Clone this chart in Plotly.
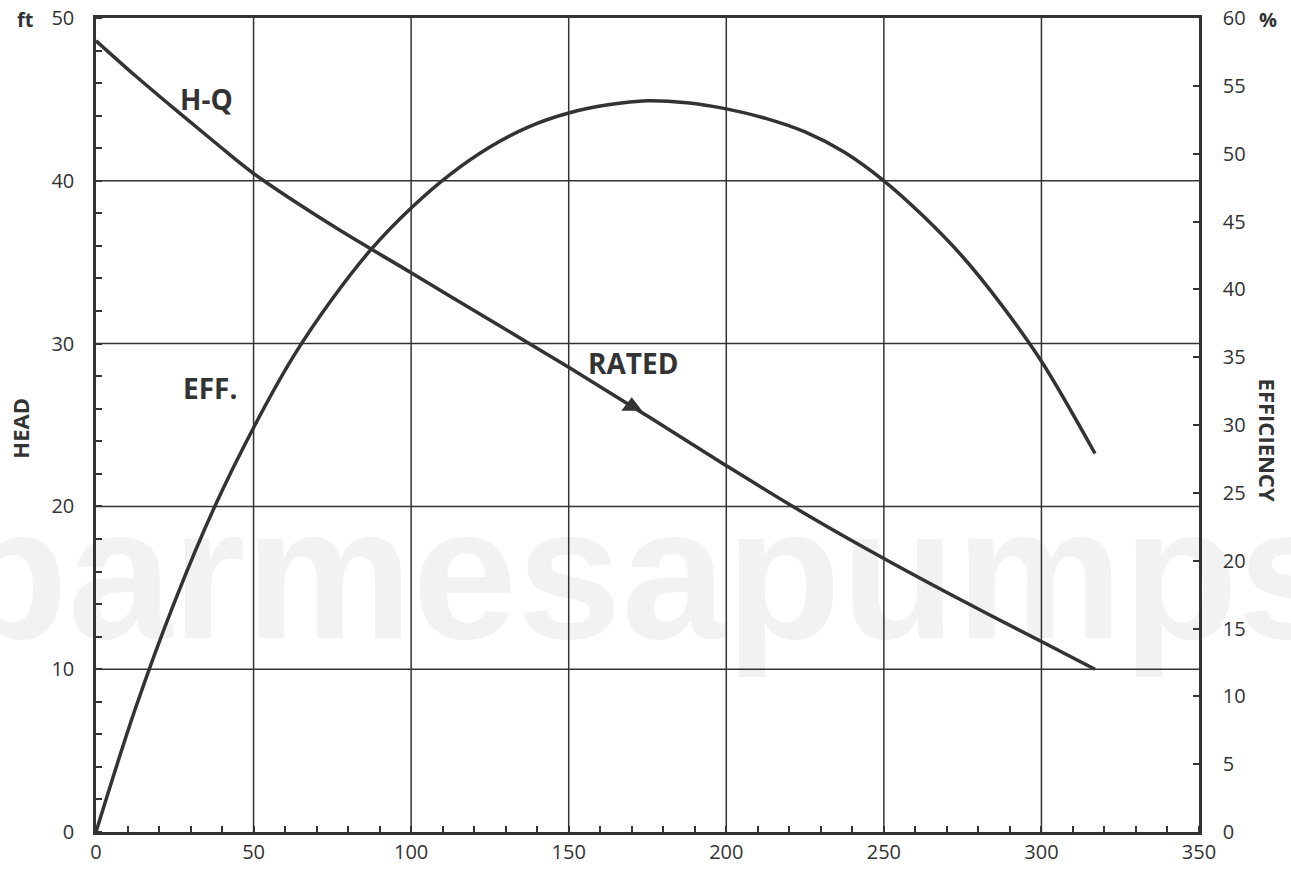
import plotly.graph_objects as go

# H-Q curve (flow, head in ft)
q_hq = [0, 12.5, 25, 37.5, 50, 75, 100, 125, 150, 175, 200, 225, 250, 275, 300, 317]
head = [48.6, 46.45, 44.4, 42.4, 40.45, 37.25, 34.35, 31.45, 28.55, 25.55, 22.5, 19.55, 16.8, 14.2, 11.7, 10.0]

# Efficiency curve (flow, %)
q_eff = [0, 12.5, 25, 37.5, 50, 62.5, 75, 87.5, 100, 112.5, 125, 137.5, 150, 162.5, 175,
         187.5, 200, 212.5, 225, 237.5, 250, 262.5, 275, 287.5, 300, 317]
eff = [0, 9.1, 17.0, 23.9, 29.8, 35.0, 39.3, 43.0, 46.0, 48.5, 50.5, 52.0, 53.0, 53.6, 53.9,
       53.75, 53.3, 52.6, 51.6, 50.1, 48.0, 45.4, 42.4, 38.8, 34.7, 27.9]

# Rated point
rated_q = [170]
rated_h = [26.15]

x_ticks = [0, 50, 100, 150, 200, 250, 300, 350]
head_ticks = [0, 10, 20, 30, 40, 50]
eff_ticks = [0, 5, 10, 15, 20, 25, 30, 35, 40, 45, 50, 55, 60]

watermark = "parmesapumps"

ink = "#333333"
font_family = "Open Sans, Noto Sans, sans-serif"

fig = go.Figure()

# watermark (below grid)
fig.add_trace(go.Scatter(x=[175], y=[14.8], mode="text", text=[watermark],
                         textfont=dict(family="Liberation Sans", size=188, color="#f2f2f2", weight="bold"),
                         textposition="middle center", showlegend=False, hoverinfo="skip", cliponaxis=False))

# grid lines drawn from the tick arrays
gx, gy = [], []
for t in x_ticks[1:-1]:
    gx += [t, t, None]
    gy += [head_ticks[0], head_ticks[-1], None]
for t in head_ticks[1:-1]:
    gx += [x_ticks[0], x_ticks[-1], None]
    gy += [t, t, None]
fig.add_trace(go.Scatter(x=gx, y=gy, mode="lines", line=dict(color=ink, width=1.5),
                         showlegend=False, hoverinfo="skip"))

fig.add_trace(go.Scatter(x=q_hq, y=head, mode="lines", line=dict(color=ink, width=3.5, shape="spline"),
                         showlegend=False, hoverinfo="skip", cliponaxis=False))
fig.add_trace(go.Scatter(x=q_eff, y=eff, mode="lines", line=dict(color=ink, width=3.5, shape="spline"),
                         yaxis="y2", showlegend=False, hoverinfo="skip", cliponaxis=False))
fig.add_trace(go.Scatter(x=rated_q, y=rated_h, mode="markers",
                         marker=dict(symbol="triangle-up", size=18, color=ink),
                         showlegend=False, hoverinfo="skip"))

fig.update_layout(
    width=1291, height=877,
    margin=dict(l=96, r=92, t=18, b=45),
    paper_bgcolor="white", plot_bgcolor="white",
    font=dict(family=font_family, color=ink, size=20),
    xaxis=dict(range=[0, 350], tickvals=x_ticks, showgrid=False, automargin=False,
               showline=True, linecolor=ink, linewidth=2.5, mirror=True, zeroline=False,
               ticks="", ticklabelstandoff=0, ticklabeloverflow="allow",
               minor=dict(dtick=10, ticks="inside", ticklen=6, tickcolor=ink, tickwidth=1.5, showgrid=False)),
    yaxis=dict(range=[0, 50], tickvals=head_ticks, showgrid=False, automargin=False,
               showline=True, linecolor=ink, linewidth=2.5, zeroline=False,
               ticks="", ticklabelstandoff=15, ticklabeloverflow="allow",
               minor=dict(dtick=2, ticks="inside", ticklen=6, tickcolor=ink, tickwidth=1.5, showgrid=False)),
    yaxis2=dict(range=[0, 60], tickvals=eff_ticks, overlaying="y", side="right", showgrid=False,
                automargin=False, showline=True, linecolor=ink, linewidth=2.5, zeroline=False,
                ticks="inside", ticklen=6, tickcolor=ink, tickwidth=1.5, ticklabelstandoff=17,
                ticklabeloverflow="allow"),
)

bold = dict(family=font_family, size=28, color=ink)
fig.add_annotation(text="<b>H-Q</b>", x=35.2, y=45.0, showarrow=False, font=bold)
fig.add_annotation(text="<b>EFF.</b>", x=36.2, y=27.3, showarrow=False, font=bold)
fig.add_annotation(text="<b>RATED</b>", x=170.4, y=28.8, showarrow=False, font=bold)

small_bold = dict(family=font_family, size=20, color=ink)
fig.add_annotation(text="<b>ft</b>", xref="paper", yref="paper", x=-0.064, y=0.998, showarrow=False,
                   font=small_bold, xanchor="center", yanchor="middle")
fig.add_annotation(text="<b>%</b>", xref="paper", yref="paper", x=1.063, y=0.998, showarrow=False,
                   font=small_bold, xanchor="center", yanchor="middle")
fig.add_annotation(text="<b>HEAD</b>", xref="paper", yref="paper", x=-0.0685, y=0.496, showarrow=False,
                   font=dict(family=font_family, size=22, color=ink), textangle=-90,
                   xanchor="center", yanchor="middle")
fig.add_annotation(text="<b>EFFICIENCY</b>", xref="paper", yref="paper", x=1.0626, y=0.482, showarrow=False,
                   font=dict(family=font_family, size=22, color=ink), textangle=90,
                   xanchor="center", yanchor="middle")

# remove the default page margin so the figure sits at the window's top-left corner
fig.write_html("out.html", config={"displayModeBar": False},
               post_script="document.body.style.margin='0';")
